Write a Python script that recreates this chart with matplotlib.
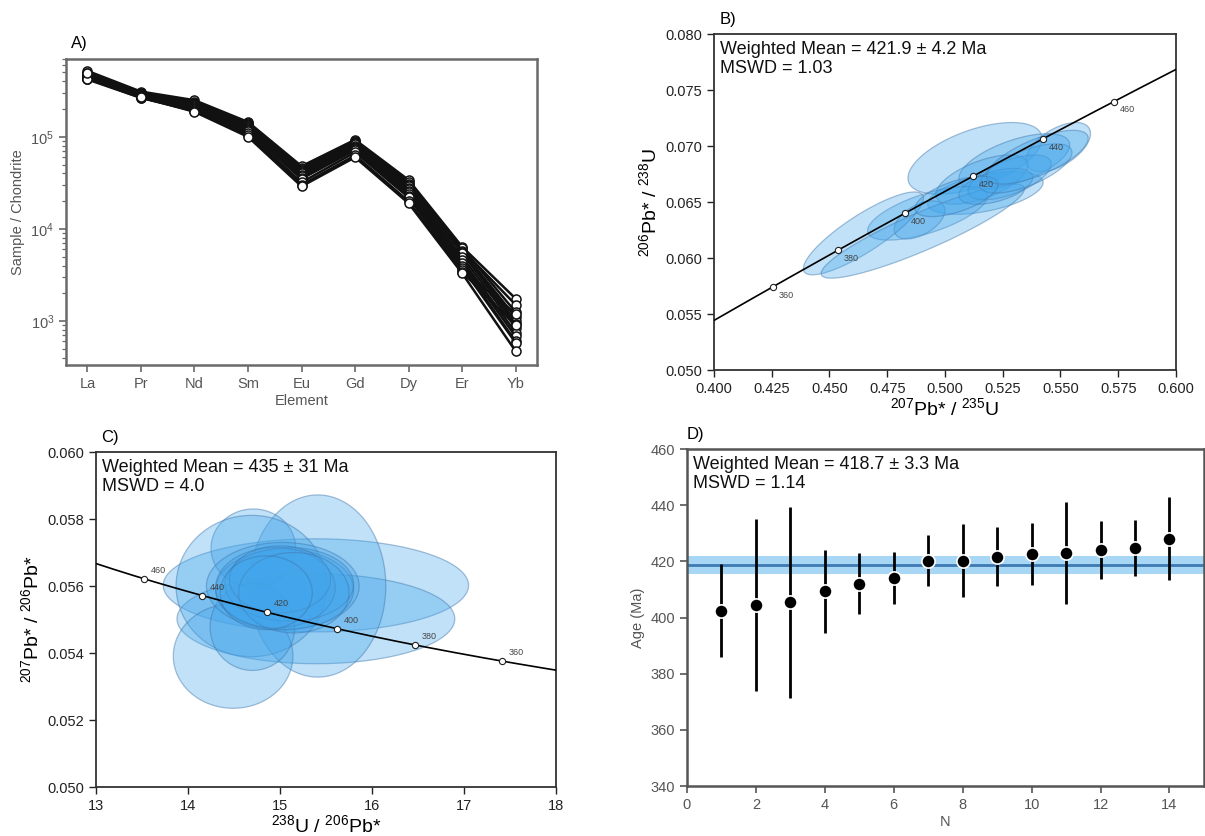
import numpy as np
import matplotlib
matplotlib.use("Agg")
import matplotlib.pyplot as plt
from matplotlib.patches import Polygon
from matplotlib.ticker import LogLocator, NullFormatter, FormatStrFormatter

plt.rcParams["font.family"] = ["Liberation Sans", "DejaVu Sans"]
plt.rcParams["mathtext.fontset"] = "custom"
plt.rcParams["mathtext.rm"] = "Liberation Sans"
plt.rcParams["mathtext.it"] = "Liberation Sans:italic"
plt.rcParams["mathtext.bf"] = "Liberation Sans:bold"

# ---------------- data ----------------
elements = ["La", "Pr", "Nd", "Sm", "Eu", "Gd", "Dy", "Er", "Yb"]
# chondrite-normalised REE, one row per analysis
ree = [
    [5.2e5, 3.1e5, 2.50e5, 1.45e5, 4.8e4, 9.3e4, 3.4e4, 6.4e3, 1.75e3],
    [4.9e5, 3.0e5, 2.40e5, 1.40e5, 4.6e4, 9.0e4, 3.2e4, 6.0e3, 1.50e3],
    [4.8e5, 2.95e5, 2.35e5, 1.38e5, 4.5e4, 8.8e4, 3.1e4, 6.2e3, 1.25e3],
    [4.7e5, 2.9e5, 2.30e5, 1.35e5, 4.4e4, 8.6e4, 3.0e4, 5.8e3, 1.10e3],
    [4.6e5, 2.9e5, 2.25e5, 1.33e5, 4.3e4, 8.5e4, 2.9e4, 5.6e3, 1.00e3],
    [4.5e5, 2.85e5, 2.20e5, 1.30e5, 4.2e4, 8.3e4, 2.8e4, 5.5e3, 9.2e2],
    [4.6e5, 2.8e5, 2.20e5, 1.28e5, 4.0e4, 8.0e4, 2.7e4, 5.0e3, 8.5e2],
    [4.4e5, 2.8e5, 2.15e5, 1.25e5, 3.9e4, 7.8e4, 2.6e4, 4.6e3, 7.5e2],
    [4.5e5, 2.75e5, 2.10e5, 1.22e5, 3.8e4, 7.6e4, 2.5e4, 4.3e3, 6.8e2],
    [4.3e5, 2.7e5, 2.05e5, 1.18e5, 3.6e4, 7.4e4, 2.4e4, 4.0e3, 6.0e2],
    [4.4e5, 2.7e5, 2.00e5, 1.15e5, 3.5e4, 7.2e4, 2.3e4, 3.8e3, 5.8e2],
    [4.2e5, 2.65e5, 1.95e5, 1.10e5, 3.2e4, 6.8e4, 2.2e4, 3.6e3, 1.20e3],
    [4.3e5, 2.65e5, 1.90e5, 1.05e5, 3.0e4, 6.3e4, 2.0e4, 3.4e3, 9.0e2],
    [4.9e5, 2.7e5, 1.87e5, 1.00e5, 2.9e4, 6.0e4, 1.9e4, 3.3e3, 4.7e2],
]

# Wetherill ratios: 207Pb/235U, err, 206Pb/238U, err, rho
wx = [0.513, 0.549, 0.530, 0.5175, 0.516, 0.4925, 0.489, 0.4647, 0.4904, 0.528, 0.522, 0.535, 0.505, 0.540]
wsx = [0.029, 0.014, 0.024, 0.025, 0.020, 0.026, 0.011, 0.026, 0.044, 0.018, 0.016, 0.020, 0.018, 0.022]
wy = [0.0689, 0.0699, 0.0686, 0.0658, 0.0670, 0.0640, 0.0634, 0.0622, 0.0624, 0.0672, 0.0664, 0.0680, 0.0655, 0.0690]
wsy = [0.0032, 0.0022, 0.0025, 0.0019, 0.0022, 0.0024, 0.0017, 0.0037, 0.0042, 0.0020, 0.0016, 0.0022, 0.0018, 0.0024]
wrho = [0.55, 0.55, 0.60, 0.50, 0.60, 0.65, 0.50, 0.85, 0.90, 0.60, 0.50, 0.65, 0.60, 0.70]

# Tera-Wasserburg ratios: 238U/206Pb, err, 207Pb/206Pb, err, rho
tx = [15.39, 15.39, 15.41, 14.71, 14.69, 14.49, 14.70, 15.03, 15.05, 15.10, 14.95, 15.00, 15.15, 14.85]
tsx = [1.66, 1.51, 0.74, 0.46, 0.82, 0.65, 0.46, 0.83, 0.75, 0.70, 0.65, 0.55, 0.60, 0.50]
ty = [0.05602, 0.05502, 0.05600, 0.05713, 0.05600, 0.05391, 0.05478, 0.05600, 0.05590, 0.05605, 0.05595, 0.05620, 0.05580, 0.05580]
tsy = [0.00139, 0.00134, 0.00272, 0.00117, 0.00211, 0.00156, 0.00130, 0.00130, 0.00120, 0.00110, 0.00120, 0.00100, 0.00120, 0.00110]
trho = [0.0, 0.0, 0.0, 0.0, 0.0, 0.0, 0.0, 0.0, 0.0, 0.0, 0.0, 0.0, 0.0, 0.0]

# ranked 206Pb/238U ages
n_index = list(range(1, 15))
ages = [402.4, 404.6, 405.4, 409.3, 412.0, 414.0, 420.2, 420.3, 421.7, 422.6, 422.9, 424.0, 424.9, 428.1]
age_err = [16.5, 30.6, 33.9, 14.9, 10.9, 9.3, 9.1, 13.1, 10.5, 11.1, 18.2, 10.3, 10.0, 14.9]
wm_age, wm_err = 418.7, 3.3

concordia_ticks = [360, 380, 400, 420, 440, 460]
L238, L235, U_RATIO = 1.55125e-10, 9.8485e-10, 137.818

FILL = "#42a5eb"
EDGE = "#3f74a8"
GREY = "#555555"


def wetherill(t_ma):
    t = np.asarray(t_ma) * 1e6
    return np.exp(L235 * t) - 1, np.exp(L238 * t) - 1


def tera(t_ma):
    x75, y68 = wetherill(t_ma)
    return 1 / y68, x75 / y68 / U_RATIO


def ellipse(ax, x, sx, y, sy, rho):
    cov = np.array([[sx * sx, rho * sx * sy], [rho * sx * sy, sy * sy]])
    vals, vecs = np.linalg.eigh(cov)
    th = np.linspace(0, 2 * np.pi, 120)
    pts = vecs @ (np.sqrt(vals)[:, None] * np.vstack([np.cos(th), np.sin(th)]))
    pts = pts.T + [x, y]
    ax.add_patch(Polygon(pts, closed=True, facecolor=FILL, alpha=0.33,
                         edgecolor="none", zorder=2))
    ax.add_patch(Polygon(pts, closed=True, facecolor="none", edgecolor=EDGE,
                         alpha=0.45, lw=0.9, zorder=2))


def stats_text(ax, lines):
    ax.text(0.012, 0.98, lines, transform=ax.transAxes, ha="left", va="top",
            fontsize=13, linespacing=1.15, color="#111111", zorder=6)


fig = plt.figure(figsize=(12.05, 8.36), dpi=100)

# ---------------- A: REE pattern ----------------
axA = fig.add_axes([0.0548, 0.5634, 0.3909, 0.3660])
xpos = np.arange(len(elements))
for row in ree:
    axA.plot(xpos, row, color="#111111", lw=1.8, marker="o", ms=6.5,
             mfc="white", mec="#111111", mew=1.1, zorder=3)
axA.set_yscale("log")
axA.set_xlim(-0.4, 8.4)
axA.set_ylim(333, 7.0e5)
axA.set_xticks(xpos)
axA.set_xticklabels(elements)
axA.yaxis.set_minor_locator(LogLocator(base=10, subs=np.arange(2, 10)))
axA.yaxis.set_minor_formatter(NullFormatter())
for s in axA.spines.values():
    s.set_color("#6a6a6a")
    s.set_linewidth(1.8)
axA.tick_params(axis="both", which="major", direction="out", length=5,
                width=1.2, color="#6a6a6a", labelcolor=GREY, labelsize=10.5)
axA.tick_params(axis="y", which="minor", direction="out", length=3,
                width=0.9, color="#6a6a6a")
axA.set_xlabel("Element", color=GREY, fontsize=10.5, labelpad=2)
axA.set_ylabel("Sample / Chondrite", color=GREY, fontsize=10.5)
axA.text(0.01, 1.025, "A)", transform=axA.transAxes, fontsize=12, ha="left", va="bottom")

# ---------------- B: Wetherill concordia ----------------
axB = fig.add_axes([0.5925, 0.5574, 0.3834, 0.4019])
tt = np.linspace(300, 520, 400)
cx, cy = wetherill(tt)
axB.plot(cx, cy, color="black", lw=1.2, zorder=4)
for i in range(len(wx)):
    ellipse(axB, wx[i], wsx[i], wy[i], wsy[i], wrho[i])
mx, my = wetherill(concordia_ticks)
axB.plot(mx, my, "o", ms=4.5, mfc="white", mec="#222222", mew=0.8, zorder=5)
for t, a, b in zip(concordia_ticks, mx, my):
    axB.annotate(str(t), (a, b), xytext=(4, -6), textcoords="offset points",
                 fontsize=6.5, color="#444444", ha="left", va="center", zorder=5)
axB.set_xlim(0.4, 0.6)
axB.set_ylim(0.05, 0.08)
axB.set_xticks(np.arange(0.4, 0.6001, 0.025))
axB.set_yticks(np.arange(0.05, 0.0801, 0.005))
axB.xaxis.set_major_formatter(FormatStrFormatter("%.3f"))
axB.yaxis.set_major_formatter(FormatStrFormatter("%.3f"))
axB.tick_params(direction="out", length=5, width=1.0, labelsize=10.5, colors="#222222")
for s in axB.spines.values():
    s.set_color("#333333")
    s.set_linewidth(1.3)
axB.set_xlabel(r"$^{207}$Pb* / $^{235}$U", fontsize=14, labelpad=1)
axB.set_ylabel(r"$^{206}$Pb* / $^{238}$U", fontsize=14, labelpad=4)
stats_text(axB, "Weighted Mean = 421.9 \u00b1 4.2 Ma\nMSWD = 1.03")
axB.text(0.012, 1.02, "B)", transform=axB.transAxes, fontsize=12, ha="left", va="bottom")

# ---------------- C: Tera-Wasserburg ----------------
axC = fig.add_axes([0.0797, 0.0586, 0.3817, 0.4007])
tt = np.linspace(330, 500, 400)
cx, cy = tera(tt)
axC.plot(cx, cy, color="black", lw=1.2, zorder=4)
for i in range(len(tx)):
    ellipse(axC, tx[i], tsx[i], ty[i], tsy[i], trho[i])
mx, my = tera(concordia_ticks)
axC.plot(mx, my, "o", ms=4.5, mfc="white", mec="#222222", mew=0.8, zorder=5)
for t, a, b in zip(concordia_ticks, mx, my):
    axC.annotate(str(t), (a, b), xytext=(5, 6), textcoords="offset points",
                 fontsize=6.5, color="#444444", ha="left", va="center", zorder=5)
axC.set_xlim(13, 18)
axC.set_ylim(0.05, 0.06)
axC.set_yticks(np.arange(0.05, 0.0601, 0.002))
axC.yaxis.set_major_formatter(FormatStrFormatter("%.3f"))
axC.tick_params(direction="out", length=5, width=1.0, labelsize=10.5, colors="#222222")
for s in axC.spines.values():
    s.set_color("#333333")
    s.set_linewidth(1.3)
axC.set_xlabel(r"$^{238}$U / $^{206}$Pb*", fontsize=14, labelpad=1)
axC.set_ylabel(r"$^{207}$Pb* / $^{206}$Pb*", fontsize=14, labelpad=4)
stats_text(axC, "Weighted Mean = 435 \u00b1 31 Ma\nMSWD = 4.0")
axC.text(0.012, 1.02, "C)", transform=axC.transAxes, fontsize=12, ha="left", va="bottom")

# ---------------- D: weighted mean age ----------------
axD = fig.add_axes([0.5701, 0.0598, 0.4290, 0.4031])
axD.axhspan(wm_age - wm_err, wm_age + wm_err, color="#a8d6f5", lw=0, zorder=1)
axD.axhline(wm_age, color="#3d7ab3", lw=2.0, zorder=2)
axD.errorbar(n_index, ages, yerr=age_err, fmt="none", ecolor="black",
             elinewidth=2.0, capsize=0, zorder=3)
axD.plot(n_index, ages, "o", ms=9.5, mfc="black", mec="white", mew=1.2, zorder=4)
axD.set_xlim(0, 15)
axD.set_ylim(340, 460)
axD.set_xticks(range(0, 15, 2))
axD.set_yticks(range(340, 461, 20))
for s in axD.spines.values():
    s.set_color("#555555")
    s.set_linewidth(1.8)
axD.tick_params(direction="out", length=5, width=1.2, color="#555555",
                labelcolor=GREY, labelsize=10.5)
axD.set_xlabel("N", color=GREY, fontsize=10.5, labelpad=2)
axD.set_ylabel("Age (Ma)", color=GREY, fontsize=10.5)
stats_text(axD, "Weighted Mean = 418.7 \u00b1 3.3 Ma\nMSWD = 1.14")
axD.text(0.0, 1.02, "D)", transform=axD.transAxes, fontsize=12, ha="left", va="bottom")

fig.savefig("out.png", dpi=100)
